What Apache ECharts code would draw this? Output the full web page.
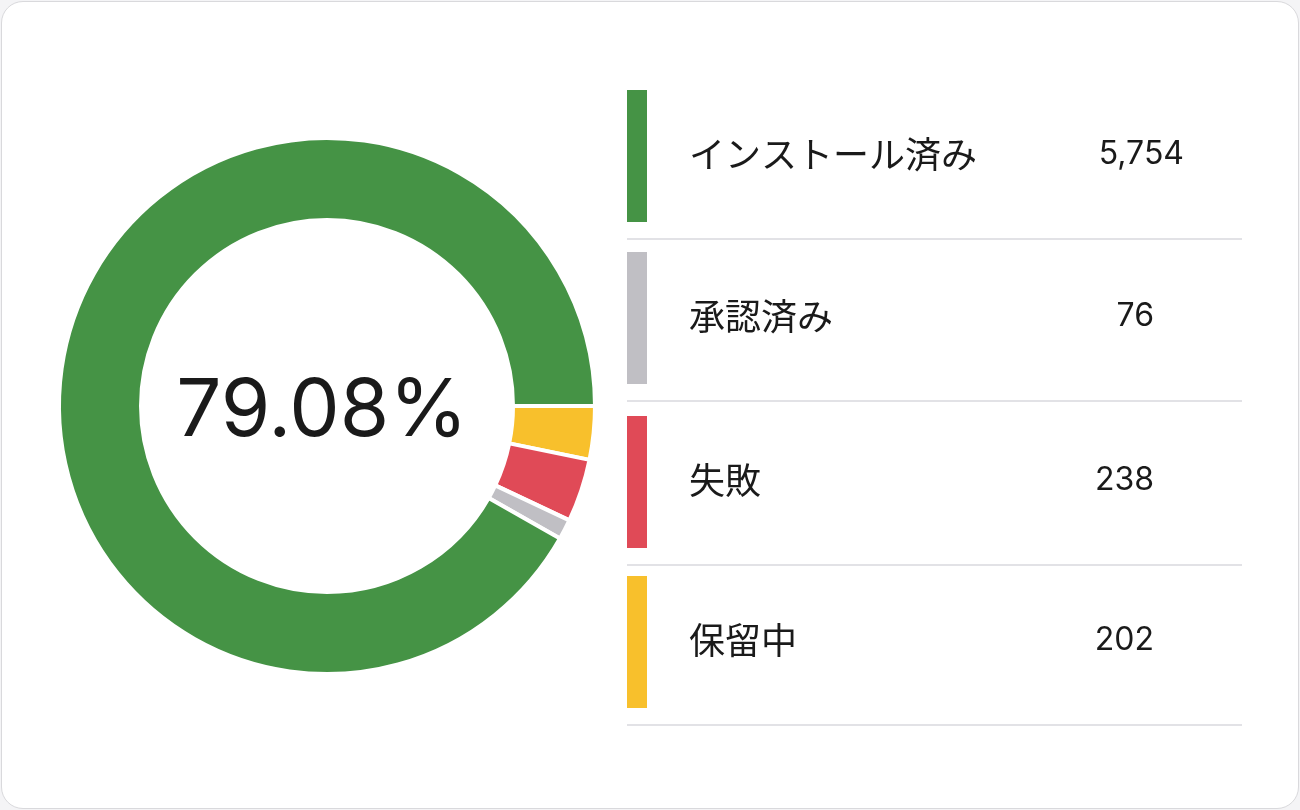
<!DOCTYPE html>
<html>
<head>
<meta charset="utf-8">
<script src="https://cdn.jsdelivr.net/npm/echarts@6/dist/echarts.min.js"></script>
<style>
  html, body { margin: 0; padding: 0; background: #f4f4f6; }
  #card {
    position: absolute; left: 1px; top: 1px; width: 1296px; height: 806px;
    background: #fff; border: 1px solid #d9d9dc; border-radius: 22px; overflow: hidden;
  }
  #chart { width: 1296px; height: 806px; }
</style>
</head>
<body>
<div id="card"><div id="chart"></div></div>
<script>
// 凡例の順（上から）
var names = ['インストール済み', '承認済み', '失敗', '保留中'];
var values = [5754, 76, 238, 202];
var colors = ['#459345', '#c0bfc4', '#e04a57', '#f8c02c'];
var centerText = '79.08%';

var myChart = echarts.init(document.getElementById('chart'));

// ドーナツは3時の位置から時計回り：保留中, 失敗, 承認済み, インストール済み
var pieOrder = [3, 2, 1, 0];
var pieData = pieOrder.map(function (i) {
  return { name: names[i], value: values[i], itemStyle: { color: colors[i] } };
});

// 右側の凡例
var rowTop = [88, 250, 414, 574];
var rowH = 132;
var valueRight = [1182, 1152, 1152, 1152];
var graphics = [];
names.forEach(function (n, i) {
  var top = rowTop[i];
  graphics.push({
    type: 'rect', left: 625, top: top,
    shape: { width: 20, height: rowH }, style: { fill: colors[i] }
  });
  graphics.push({
    type: 'text', left: 687, top: top + rowH / 2 - 20,
    style: { text: n, fontSize: 36, fill: '#1a1a1a', fontFamily: 'Noto Sans CJK JP' }
  });
  graphics.push({
    type: 'text', right: 1296 - valueRight[i], top: top + rowH / 2 - 18,
    style: { text: values[i].toLocaleString('en-US'), fontSize: 32, fill: '#1a1a1a', fontFamily: 'Inter', align: 'right' }
  });
  graphics.push({
    type: 'rect', left: 625, top: top + rowH + 16,
    shape: { width: 615, height: 2 }, style: { fill: '#e2e2e6' }
  });
});
graphics.push({
  type: 'text', left: 'center', top: 0,
  style: { text: '' }
});

option = {
  animation: false,
  graphic: graphics.concat([{
    type: 'text', x: 320, y: 410,
    style: {
      text: centerText, fontSize: 80, fill: '#1a1a1a', fontFamily: 'Inter',
      align: 'center', verticalAlign: 'middle'
    }
  }]),
  series: [{
    type: 'pie',
    center: [325, 404],
    radius: [186, 268],
    startAngle: 0,
    clockwise: true,
    label: { show: false },
    labelLine: { show: false },
    emphasis: { disabled: true },
    itemStyle: { borderColor: '#fff', borderWidth: 4 },
    data: pieData
  }]
};

myChart.setOption(option);
</script>
</body>
</html>
